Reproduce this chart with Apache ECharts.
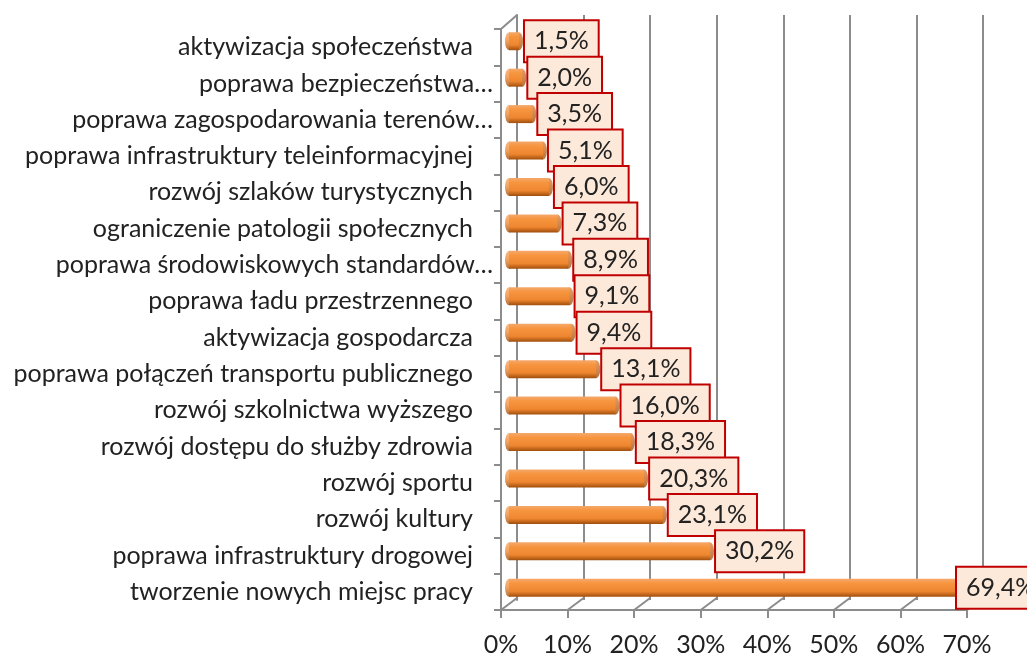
<!DOCTYPE html>
<html>
<head>
<meta charset="utf-8">
<script src="https://cdn.jsdelivr.net/npm/echarts@6/dist/echarts.min.js"></script>
<style>
  html, body { margin: 0; padding: 0; background: #fff; }
  #chart { width: 1027px; height: 657px; }
</style>
</head>
<body>
<div id="chart"></div>
<script>
// kategorie od góry do dołu
const categories = [
  'aktywizacja społeczeństwa',
  'poprawa bezpieczeństwa…',
  'poprawa zagospodarowania terenów…',
  'poprawa infrastruktury teleinformacyjnej',
  'rozwój szlaków turystycznych',
  'ograniczenie patologii społecznych',
  'poprawa środowiskowych standardów…',
  'poprawa ładu przestrzennego',
  'aktywizacja gospodarcza',
  'poprawa połączeń transportu publicznego',
  'rozwój szkolnictwa wyższego',
  'rozwój dostępu do służby zdrowia',
  'rozwój sportu',
  'rozwój kultury',
  'poprawa infrastruktury drogowej',
  'tworzenie nowych miejsc pracy'
];
const values = [1.5, 2.0, 3.5, 5.1, 6.0, 7.3, 8.9, 9.1, 9.4, 13.1, 16.0, 18.3, 20.3, 23.1, 30.2, 69.4];
const tickValues = [0, 10, 20, 30, 40, 50, 60, 70];

const FONT = 'Lato';
const gray = '#8c8c8c';
const chart = echarts.init(document.getElementById('chart'));

const option = {
  animation: false,
  textStyle: { fontFamily: FONT },
  grid: [
    // przód (osie, etykiety)
    { left: 501, top: 29, width: 466, height: 583 },
    // środek (słupki)
    { left: 509, top: 23, width: 466, height: 583 },
    // tył (linie siatki)
    { left: 517, top: 15, width: 466, height: 585 }
  ],
  xAxis: [
    {
      gridIndex: 0, type: 'value', min: 0, max: 70, interval: 10,
      axisLine: { show: true, lineStyle: { color: gray, width: 2 } },
      axisTick: { show: true, length: 8, lineStyle: { color: gray, width: 2 } },
      axisLabel: { formatter: '{value}%', fontSize: 25, color: '#222', margin: 22, fontFamily: FONT },
      splitLine: { show: false }
    },
    {
      gridIndex: 1, type: 'value', min: 0, max: 70, show: false
    },
    {
      gridIndex: 2, type: 'value', min: 0, max: 70, interval: 10,
      axisLine: { show: false }, axisTick: { show: false }, axisLabel: { show: false },
      splitLine: { show: true, lineStyle: { color: gray, width: 2 } }
    }
  ],
  yAxis: [
    {
      gridIndex: 0, type: 'category', data: categories, inverse: true,
      axisLine: { show: true, lineStyle: { color: gray, width: 2 } },
      axisTick: { show: true, length: 7, lineStyle: { color: gray, width: 2 } },
      axisLabel: {
        margin: 8, fontSize: 25, color: '#222', fontFamily: FONT,
        formatter: v => v.endsWith('…') ? v : '{p|' + v + '}',
        rich: { p: { fontSize: 25, color: '#222', fontFamily: FONT, padding: [0, 20, 0, 0] } }
      }
    },
    { gridIndex: 1, type: 'category', data: categories, inverse: true, show: false },
    {
      gridIndex: 2, type: 'category', data: categories, inverse: true,
      axisLine: { show: true, lineStyle: { color: gray, width: 2 } },
      axisTick: { show: false }, axisLabel: { show: false }
    }
  ],
  series: [
    {
      // skośne linie "3D" podłogi i ściany
      type: 'custom',
      xAxisIndex: 0, yAxisIndex: 0,
      clip: false, silent: true,
      data: tickValues.map(v => [v]),
      encode: { x: 0 },
      renderItem(params, api) {
        const cs = params.coordSys;
        const x = api.coord([api.value(0), 0])[0];
        const yb = cs.y + cs.height;
        const style = { stroke: gray, lineWidth: 2 };
        const children = [
          { type: 'line', shape: { x1: x, y1: yb, x2: x + 16, y2: yb - 12 }, style }
        ];
        if (api.value(0) === 0) {
          children.push({ type: 'line', shape: { x1: cs.x, y1: cs.y, x2: cs.x + 16, y2: cs.y - 14 }, style });
        }
        return { type: 'group', children };
      }
    },
    {
      type: 'bar',
      xAxisIndex: 1, yAxisIndex: 1,
      data: values.map((v, i) => i === values.length - 1 ? { value: v, label: { offset: [-20, 0] } } : v),
      barWidth: 18,
      z: 5,
      itemStyle: {
        color: new echarts.graphic.LinearGradient(0, 0, 0, 1, [
          { offset: 0, color: '#f4a96c' },
          { offset: 0.25, color: '#f7953f' },
          { offset: 0.7, color: '#ef8630' },
          { offset: 1, color: '#a04e0c' }
        ])
      },
      label: {
        show: true,
        position: 'right',
        distance: 6,
        formatter: p => p.value.toFixed(1).replace('.', ',') + '%',
        fontSize: 25,
        fontFamily: FONT,
        color: '#222',
        backgroundColor: '#fde9d9',
        borderColor: '#c00000',
        borderWidth: 2,
        padding: [8, 9, 7, 9]
      }
    },
    {
      // denko walca po lewej
      type: 'scatter',
      xAxisIndex: 1, yAxisIndex: 1,
      data: values.map((v, i) => [0, i]),
      symbol: 'circle',
      symbolSize: [8, 18],
      z: 4,
      silent: true,
      itemStyle: {
        color: new echarts.graphic.LinearGradient(0, 0, 0, 1, [
          { offset: 0, color: '#f4a96c' },
          { offset: 0.5, color: '#f18a33' },
          { offset: 1, color: '#a04e0c' }
        ])
      }
    },
    {
      // czoło walca po prawej
      type: 'scatter',
      xAxisIndex: 1, yAxisIndex: 1,
      data: values.map((v, i) => [v, i]),
      symbol: 'circle',
      symbolSize: [8, 18],
      z: 4,
      silent: true,
      itemStyle: {
        color: new echarts.graphic.LinearGradient(0, 0, 0, 1, [
          { offset: 0, color: '#e0843a' },
          { offset: 1, color: '#a5520f' }
        ])
      }
    }
  ]
};

chart.setOption(option);
</script>
</body>
</html>
